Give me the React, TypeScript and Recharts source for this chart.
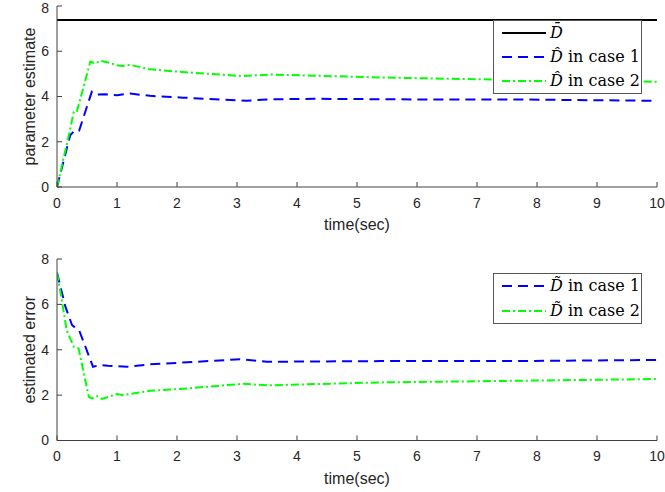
import { LineChart, Line, XAxis, YAxis, Legend } from 'recharts';

// readings (time in sec)
const xTicks = [0, 1, 2, 3, 4, 5, 6, 7, 8, 9, 10];
const yTicks = [0, 2, 4, 6, 8];

const barTime = [0, 10];
const barValues = [7.38, 7.38];

const est1Time = [0, 0.22, 0.3, 0.37, 0.58, 0.67, 0.8, 1.0, 1.22, 1.55, 2.1, 3.16, 3.5, 4.27, 5.94, 7.6, 10];
const est1Values = [0, 2.29, 2.51, 2.5, 4.21, 4.09, 4.1, 4.06, 4.13, 4.03, 3.95, 3.81, 3.87, 3.9, 3.87, 3.87, 3.81];

const est2Time = [0, 0.19, 0.28, 0.33, 0.555, 0.64, 0.72, 0.85, 1.0, 1.1, 1.22, 1.55, 2.1, 3.1, 3.55, 4.3, 5.4, 7.05, 8.5, 10];
const est2Values = [0, 2.2, 3.32, 3.32, 5.54, 5.46, 5.58, 5.5, 5.38, 5.35, 5.4, 5.2, 5.08, 4.9, 4.97, 4.92, 4.84, 4.76, 4.72, 4.65];

const err1Time = [0, 0.14, 0.25, 0.33, 0.37, 0.6, 0.72, 0.85, 1.17, 1.55, 2.05, 3.05, 3.5, 5.38, 7.6, 10];
const err1Values = [7.39, 5.9, 5.09, 4.91, 4.85, 3.25, 3.33, 3.3, 3.25, 3.36, 3.43, 3.58, 3.47, 3.5, 3.5, 3.55];

const err2Time = [0, 0.08, 0.16, 0.28, 0.36, 0.53, 0.58, 0.67, 0.75, 1.0, 1.1, 1.55, 2.05, 3.1, 3.5, 5.38, 7.6, 10];
const err2Values = [7.39, 6.2, 4.87, 4.13, 4.06, 1.93, 1.86, 1.96, 1.83, 2.05, 2.0, 2.19, 2.27, 2.5, 2.43, 2.56, 2.63, 2.71];

const toPoints = (t: number[], v: number[]) => t.map((x, i) => ({ t: x, v: v[i] }));

const AXIS = '#404040';
const TEXT = '#262626';
const SANS = '"Liberation Sans", Arial, sans-serif';
const SERIF = '"DejaVu Serif", serif';
const BLUE = '#0000ff';
const GREEN = '#00ff00';
const DASH = '10 6';
const DASHDOT = '8 3 2 3';

const tickStyle = { fill: TEXT, fontSize: 14, fontFamily: SANS };

function XTitle({ viewBox, text }: any) {
  const { x, y, width } = viewBox;
  return (
    <text x={x + width / 2} y={y + 43} textAnchor="middle" fontSize={16} fill={TEXT} fontFamily={SANS}>
      {text}
    </text>
  );
}

function YTitle({ viewBox, text }: any) {
  const { y, height } = viewBox;
  return (
    <text
      transform={`translate(35,${y + height / 2}) rotate(-90)`}
      textAnchor="middle"
      fontSize={16}
      fill={TEXT}
      fontFamily={SANS}
    >
      {text}
    </text>
  );
}

function BoxLegend({ payload, rowH }: any) {
  return (
    <div
      style={{
        boxSizing: 'border-box',
        border: '1px solid #555',
        background: '#fff',
        padding: '0 6px 0 8px',
        fontFamily: SERIF,
        fontSize: 16,
        color: '#000',
        lineHeight: 1,
      }}
    >
      {(payload || []).map((entry: any) => {
        const name: string = entry.value;
        return (
          <div key={name} style={{ display: 'flex', alignItems: 'center', height: rowH }}>
            <svg width={44} height={6} style={{ display: 'block', flexShrink: 0 }}>
              <line
                x1={0}
                x2={44}
                y1={3}
                y2={3}
                stroke={entry.color}
                strokeWidth={2}
                strokeDasharray={entry.payload?.strokeDasharray}
              />
            </svg>
            <span style={{ marginLeft: 4, whiteSpace: 'nowrap' }}>
              <i>{name.slice(0, 2)}</i>
              {name.slice(2)}
            </span>
          </div>
        );
      })}
    </div>
  );
}

function Panel({ top, height, margin, xHeight, yTitle, legendPos, rowH, children }: any) {
  return (
    <div style={{ position: 'absolute', left: 0, top }}>
      <LineChart width={665} height={height} margin={margin}>
        <XAxis
          dataKey="t"
          type="number"
          domain={[0, 10]}
          ticks={xTicks}
          allowDataOverflow
          height={xHeight}
          stroke={AXIS}
          tickSize={-5}
          tickMargin={16}
          tick={tickStyle}
          label={<XTitle text="time(sec)" />}
        />
        <XAxis
          xAxisId="top"
          orientation="top"
          dataKey="t"
          type="number"
          domain={[0, 10]}
          ticks={xTicks}
          height={0}
          stroke={AXIS}
          tickSize={-5}
          tickFormatter={() => ''}
        />
        <YAxis
          domain={[0, 8]}
          ticks={yTicks}
          allowDataOverflow
          width={57}
          stroke={AXIS}
          tickSize={-5}
          tickMargin={13}
          tick={tickStyle}
          label={<YTitle text={yTitle} />}
        />
        <YAxis
          yAxisId="right"
          orientation="right"
          domain={[0, 8]}
          ticks={yTicks}
          width={0}
          stroke={AXIS}
          tickSize={-5}
          tickFormatter={() => ''}
        />
        {children}
        <Legend
          layout="horizontal"
          verticalAlign="middle"
          align="center"
          itemSorter={null}
          wrapperStyle={{ left: legendPos.left, top: legendPos.top, width: 149 }}
          content={(props: any) => <BoxLegend payload={props.payload} rowH={rowH} />}
        />
      </LineChart>
    </div>
  );
}

export default function App() {
  return (
    <div style={{ position: 'absolute', left: 0, top: 0, width: 665, height: 492, background: '#fff' }}>
      <Panel
        top={0}
        height={240}
        margin={{ top: 6, right: 8, bottom: 0, left: 0 }}
        xHeight={53}
        yTitle="parameter estimate"
        legendPos={{ left: 493, top: 20 }}
        rowH={24}
      >
        <Line
          data={toPoints(barTime, barValues)}
          dataKey="v"
          name={'D\u0304'}
          stroke="#000"
          strokeWidth={2}
          dot={false}
          activeDot={false}
          isAnimationActive={false}
        />
        <Line
          data={toPoints(est1Time, est1Values)}
          dataKey="v"
          name={'D\u0302 in case 1'}
          stroke={BLUE}
          strokeWidth={2}
          strokeDasharray={DASH}
          dot={false}
          activeDot={false}
          isAnimationActive={false}
        />
        <Line
          data={toPoints(est2Time, est2Values)}
          dataKey="v"
          name={'D\u0302 in case 2'}
          stroke={GREEN}
          strokeWidth={2}
          strokeDasharray={DASHDOT}
          dot={false}
          activeDot={false}
          isAnimationActive={false}
        />
      </Panel>
      <Panel
        top={246}
        height={246}
        margin={{ top: 13, right: 8, bottom: 0, left: 0 }}
        xHeight={51.5}
        yTitle="estimated error"
        legendPos={{ left: 493, top: 27 }}
        rowH={24.5}
      >
        <Line
          data={toPoints(err1Time, err1Values)}
          dataKey="v"
          name={'D\u0303 in case 1'}
          stroke={BLUE}
          strokeWidth={2}
          strokeDasharray={DASH}
          dot={false}
          activeDot={false}
          isAnimationActive={false}
        />
        <Line
          data={toPoints(err2Time, err2Values)}
          dataKey="v"
          name={'D\u0303 in case 2'}
          stroke={GREEN}
          strokeWidth={2}
          strokeDasharray={DASHDOT}
          dot={false}
          activeDot={false}
          isAnimationActive={false}
        />
      </Panel>
    </div>
  );
}
